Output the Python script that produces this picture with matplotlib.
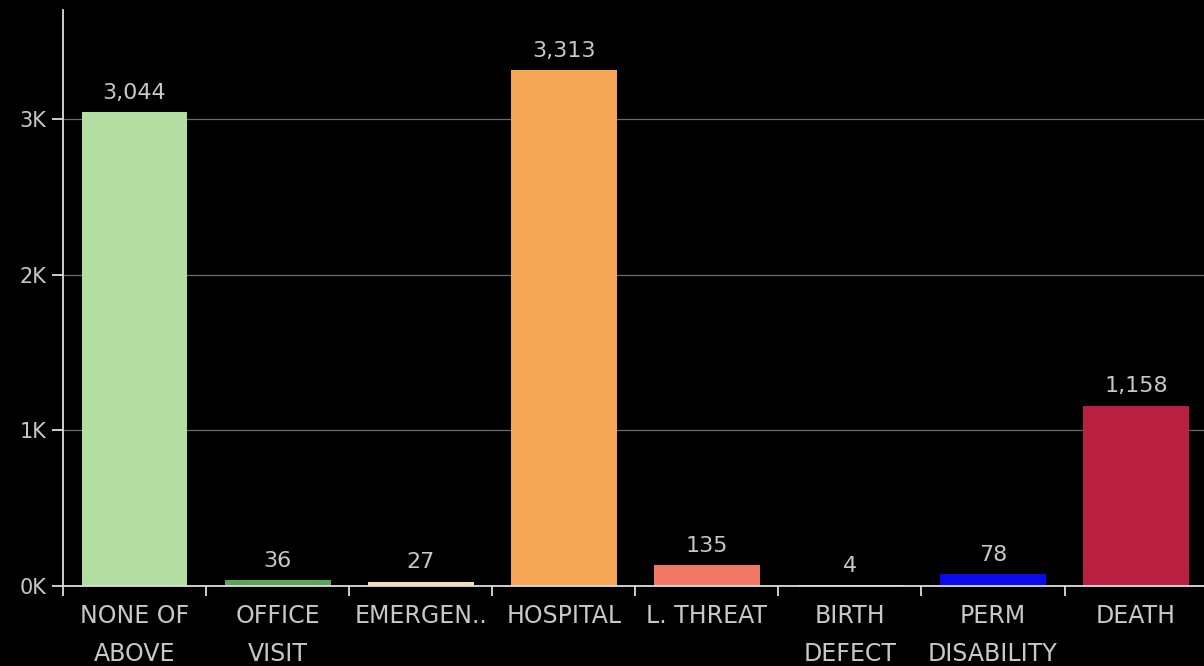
import matplotlib.pyplot as plt
import numpy as np

categories = ['NONE OF\nABOVE', 'OFFICE\nVISIT', 'EMERGEN..', 'HOSPITAL', 'L. THREAT',
              'BIRTH\nDEFECT', 'PERM\nDISABILITY', 'DEATH']
counts = [3044, 36, 27, 3313, 135, 4, 78, 1158]
colors = ['#b2dea2', '#5aa55a', '#f3dfb0', '#f5a654', '#f07865', '#e8e0d0', '#0a0aee', '#b91f40']
yticks = [0, 1000, 2000, 3000]
ytick_labels = ['0K', '1K', '2K', '3K']

plt.rcParams['font.family'] = ['DejaVu Sans']
txt = '#c8c8c8'

fig = plt.figure(figsize=(12.04, 6.66), dpi=100, facecolor='black')
ax = fig.add_axes([63 / 1204, 80 / 666, 1 - 63 / 1204 + 0.003, 576 / 666])
ax.set_facecolor('black')

x = np.arange(len(categories))
ax.bar(x, counts, width=0.74, color=colors, zorder=3)
for xi, v in zip(x, counts):
    ax.text(xi, v + 60, f'{v:,}', ha='center', va='bottom', color=txt, fontsize=16)

ax.set_xlim(-0.5, len(categories) - 0.5)
ax.set_ylim(0, 3700)
ax.set_yticks(yticks)
ax.set_yticklabels(ytick_labels, fontsize=15, color=txt)
ax.grid(axis='y', color='#6a6a6a', linewidth=0.9, zorder=0)

ax.set_xticks(x)
ax.set_xticklabels(categories, fontsize=17, color=txt, linespacing=1.75, va='top')
ax.tick_params(axis='x', length=0, pad=13)
ax.set_xticks(np.arange(len(categories)) - 0.5, minor=True)
ax.tick_params(axis='x', which='minor', length=7, color='#dddddd', width=1.3)
ax.tick_params(axis='y', length=8, color='#dddddd', width=1.3, pad=4)

for side in ['top', 'right']:
    ax.spines[side].set_visible(False)
ax.spines['left'].set_color('#dddddd')
ax.spines['left'].set_linewidth(1.3)
ax.spines['bottom'].set_color('#dddddd')
ax.spines['bottom'].set_linewidth(1.3)
ax.spines['bottom'].set_zorder(4)

plt.savefig('out.png', dpi=100, facecolor='black')
